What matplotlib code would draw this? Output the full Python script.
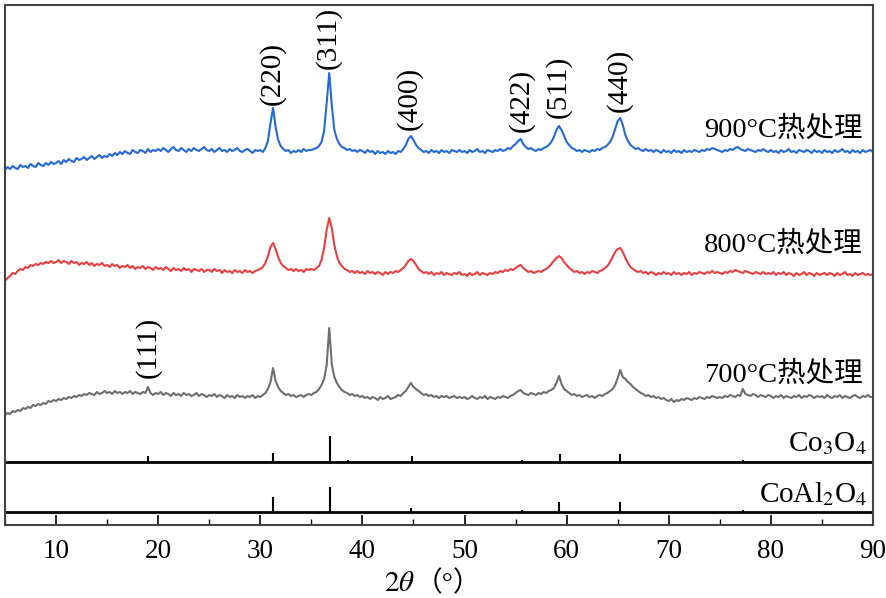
import numpy as np
import matplotlib
matplotlib.use("Agg")
import matplotlib.pyplot as plt
from matplotlib.ticker import MultipleLocator

plt.rcParams['font.family'] = ['Liberation Serif', 'Noto Sans CJK SC', 'DejaVu Sans']
plt.rcParams['mathtext.fontset'] = 'stix'

# 2theta grid, 0.25 deg steps from 5 to 90
two_theta = np.arange(5, 90.001, 0.25)

# intensities (a.u.), one row = 5 deg
i_900 = [
    5, 8, 6, 9, 7, 6, 10, 8, 9, 7, 11, 9, 8, 12, 10, 9, 12, 10, 13, 11,
    12, 14, 11, 15, 13, 16, 14, 13, 17, 15, 16, 18, 15, 17, 19, 16, 18, 20, 17, 19,
    18, 21, 19, 22, 20, 23, 21, 24, 22, 21, 25, 23, 22, 25, 24, 22, 26, 23, 25, 24,
    26, 24, 27, 25, 23, 26, 28, 25, 24, 27, 25, 23, 26, 24, 27, 25, 24, 26, 28, 25,
    24, 26, 23, 25, 27, 24, 25, 23, 26, 24, 25, 27, 24, 23, 25, 26, 24, 22, 25, 24,
    25, 23, 27, 34, 52, 67, 48, 35, 29, 26, 24, 25, 22, 24, 23, 25, 23, 26, 24, 25,
    25, 26, 27, 29, 33, 44, 72, 102, 70, 45, 36, 31, 28, 27, 25, 26, 24, 25, 23, 25,
    24, 22, 25, 23, 24, 21, 24, 22, 23, 21, 24, 22, 23, 21, 24, 23, 26, 30, 36, 39,
    35, 30, 27, 25, 23, 24, 22, 25, 23, 24, 22, 25, 23, 24, 22, 25, 24, 23, 25, 23,
    24, 22, 25, 23, 24, 26, 23, 24, 22, 25, 24, 23, 25, 24, 26, 24, 25, 27, 26, 29,
    31, 34, 36, 31, 28, 26, 27, 25, 24, 26, 25, 27, 28, 30, 33, 38, 45, 49, 45, 39,
    33, 30, 27, 26, 24, 25, 23, 25, 24, 23, 25, 24, 26, 25, 27, 28, 30, 33, 38, 46,
    54, 57, 50, 40, 34, 30, 28, 26, 27, 25, 24, 26, 24, 25, 23, 25, 24, 22, 25, 23,
    24, 22, 25, 23, 24, 22, 25, 23, 24, 23, 25, 24, 23, 25, 24, 26, 25, 27, 26, 25,
    24, 23, 25, 24, 26, 25, 27, 28, 26, 25, 24, 26, 25, 24, 23, 25, 24, 26, 24, 23,
    25, 23, 24, 22, 25, 23, 24, 26, 23, 24, 22, 25, 24, 23, 25, 24, 22, 25, 23, 24,
    22, 25, 23, 24, 22, 25, 23, 24, 26, 23, 24, 22, 25, 23, 24, 22, 25, 23, 24, 25,
    23,
]
i_800 = [
    9, 12, 14, 17, 16, 19, 21, 20, 23, 22, 25, 24, 26, 25, 27, 26, 28, 27, 29, 27,
    28, 30, 27, 29, 28, 26, 29, 27, 28, 25, 27, 26, 28, 25, 27, 24, 26, 25, 27, 24,
    25, 23, 26, 24, 25, 22, 24, 23, 25, 22, 24, 21, 23, 22, 24, 21, 23, 22, 20, 23,
    21, 22, 20, 23, 21, 19, 22, 20, 21, 19, 22, 20, 21, 18, 21, 20, 19, 21, 18, 20,
    20, 18, 21, 19, 20, 17, 20, 18, 19, 17, 20, 18, 19, 17, 20, 18, 19, 17, 19, 20,
    21, 23, 27, 34, 43, 47, 41, 33, 27, 24, 22, 20, 21, 19, 21, 19, 20, 18, 21, 20,
    21, 20, 22, 24, 30, 42, 60, 72, 62, 45, 34, 27, 24, 21, 20, 18, 19, 17, 19, 17,
    18, 16, 19, 17, 18, 16, 18, 17, 15, 18, 16, 18, 17, 19, 18, 20, 22, 25, 29, 31,
    29, 25, 21, 19, 17, 18, 16, 18, 15, 17, 16, 18, 15, 17, 16, 15, 17, 16, 18, 15,
    16, 14, 17, 15, 16, 18, 15, 17, 16, 15, 17, 16, 18, 17, 19, 18, 20, 19, 21, 20,
    22, 24, 25, 22, 20, 18, 19, 17, 18, 19, 18, 20, 21, 23, 26, 29, 32, 34, 32, 28,
    25, 22, 20, 18, 19, 17, 18, 16, 18, 17, 19, 18, 17, 19, 20, 22, 24, 28, 33, 38,
    41, 42, 38, 32, 27, 23, 21, 19, 18, 19, 17, 18, 16, 18, 17, 15, 17, 16, 18, 16,
    17, 15, 18, 16, 17, 15, 17, 16, 18, 15, 17, 16, 18, 17, 16, 18, 17, 19, 17, 18,
    17, 16, 18, 17, 19, 18, 20, 19, 18, 17, 19, 18, 17, 16, 18, 17, 16, 18, 16, 17,
    16, 18, 15, 17, 16, 18, 15, 17, 16, 14, 17, 15, 16, 18, 15, 17, 16, 14, 17, 15,
    16, 17, 15, 17, 16, 14, 17, 15, 16, 18, 15, 16, 14, 17, 15, 16, 17, 15, 16, 15,
    16,
]
i_700 = [
    5, 7, 6, 9, 8, 10, 9, 12, 11, 13, 12, 15, 14, 16, 15, 17, 16, 19, 18, 20,
    19, 21, 20, 22, 21, 23, 22, 24, 23, 25, 24, 26, 25, 27, 26, 25, 28, 26, 27, 29,
    27, 28, 26, 29, 27, 28, 26, 28, 27, 29, 26, 28, 27, 26, 28, 27, 33, 27, 25, 27,
    26, 28, 25, 27, 26, 24, 27, 25, 26, 24, 27, 25, 26, 24, 25, 27, 24, 26, 25, 23,
    25, 24, 26, 23, 25, 24, 22, 25, 23, 24, 22, 25, 23, 24, 22, 24, 23, 25, 22, 24,
    23, 25, 27, 31, 38, 52, 39, 33, 29, 27, 25, 26, 24, 25, 23, 24, 25, 23, 25, 26,
    25, 27, 28, 31, 35, 41, 55, 92, 56, 43, 37, 33, 30, 28, 27, 25, 26, 24, 25, 23,
    24, 22, 23, 21, 23, 22, 20, 23, 21, 22, 24, 21, 22, 23, 25, 24, 27, 29, 33, 37,
    33, 31, 29, 27, 25, 26, 24, 25, 23, 24, 22, 24, 23, 24, 22, 23, 24, 22, 23, 22,
    23, 21, 22, 24, 22, 21, 23, 22, 24, 21, 23, 22, 21, 23, 22, 24, 23, 22, 24, 25,
    27, 29, 30, 27, 26, 25, 27, 26, 25, 27, 26, 28, 27, 29, 30, 32, 37, 44, 36, 31,
    29, 27, 25, 26, 24, 25, 23, 24, 25, 23, 24, 22, 24, 25, 24, 26, 27, 29, 31, 35,
    42, 50, 43, 41, 38, 36, 33, 31, 29, 27, 26, 24, 25, 23, 24, 22, 23, 21, 22, 20,
    19, 21, 18, 20, 19, 21, 20, 22, 21, 20, 22, 21, 23, 22, 21, 23, 22, 24, 23, 22,
    23, 22, 24, 23, 25, 24, 23, 25, 24, 31, 26, 25, 24, 26, 25, 23, 25, 24, 23, 25,
    24, 22, 24, 23, 25, 22, 24, 23, 22, 24, 23, 25, 22, 24, 23, 25, 24, 22, 24, 23,
    24, 22, 25, 23, 22, 24, 23, 25, 22, 24, 23, 22, 24, 25, 23, 22, 24, 23, 25, 23,
    23,
]

# reference patterns (stick positions / heights)
co3o4_pos = [19.0, 31.27, 36.85, 38.55, 44.81, 55.66, 59.36, 65.24, 77.3, 78.4]
co3o4_int = [6, 9, 26, 2, 6, 2, 8, 8, 2, 1]
coal2o4_pos = [31.2, 36.8, 44.8, 55.6, 59.3, 65.2, 77.3]
coal2o4_int = [15, 25, 4, 2, 10, 10, 2]

hkl_labels = ['(111)', '(220)', '(311)', '(400)', '(422)', '(511)', '(440)']
hkl_pos = [19.0, 31.15, 36.7, 44.6, 55.6, 59.15, 65.15]

series = [
    ('900°C热处理', i_900, '#2369d8', 350),
    ('800°C热处理', i_800, '#e8403f', 235),
    ('700°C热处理', i_700, '#6e6e6e', 105),
]

fig = plt.figure(figsize=(8.87, 5.98), dpi=100)
ax = fig.add_axes([5 / 887, 73 / 598, 868 / 887, 520 / 598])

for name, vals, col, off in series:
    y = np.array(vals) + off
    ax.plot(two_theta, y, color=col, lw=1.5)
    ax.text(89, off + 38, name, ha='right', va='baseline', fontsize=20.5)

# hkl labels, above the 900 curve (111 above the 700 curve)
label_y = [147, 420, 456, 395, 393, 407, 413]
for lab, xp, yp in zip(hkl_labels, hkl_pos, label_y):
    ax.text(xp, yp, lab, rotation=90, ha='center', va='bottom', fontsize=21)

# reference stick panels
co_base, coal_base = 63, 13
ax.axhline(co_base, color='k', lw=2)
ax.axhline(coal_base, color='k', lw=2)
ax.vlines(co3o4_pos, co_base, co_base + np.array(co3o4_int), color='k', lw=1.5)
ax.vlines(coal2o4_pos, coal_base, coal_base + np.array(coal2o4_int), color='k', lw=1.5)
ax.text(89.4, co_base + 11, r'Co$_3$O$_4$', ha='right', va='baseline', fontsize=21)
ax.text(89.4, coal_base + 10, r'CoAl$_2$O$_4$', ha='right', va='baseline', fontsize=21)

ax.set_xlim(5, 90)
ax.set_ylim(0, 520)
ax.set_yticks([])
ax.xaxis.set_minor_locator(MultipleLocator(5))
ax.set_xticks([10, 20, 30, 40, 50, 60, 70, 80, 90])
ax.tick_params(axis='x', which='major', direction='in', length=7, width=1.2,
               labelsize=19.5, pad=10)
ax.tick_params(axis='x', which='minor', direction='in', length=4, width=1.0)
for sp in ax.spines.values():
    sp.set_color('#444444')
    sp.set_linewidth(1.5)

# x label: italic theta via mathtext, full-width brackets via the CJK font
fig.text(415 / 887, 7 / 598, r'$2\theta$', ha='right', va='baseline', fontsize=21)
fig.text(415 / 887, 7 / 598, '（°）', ha='left', va='baseline', fontsize=20)

fig.savefig('out.png', dpi=100)
